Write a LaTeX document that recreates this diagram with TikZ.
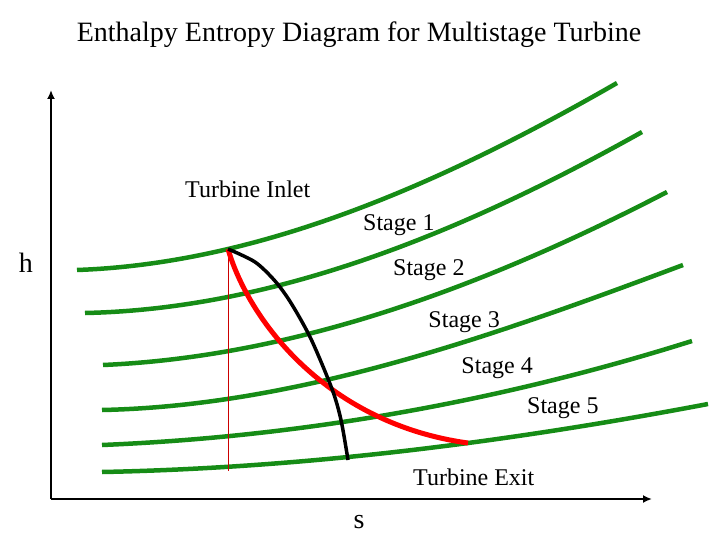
\documentclass[tikz,border=0pt]{standalone}
\usepackage{fontspec}
\setmainfont{Liberation Serif}
\usetikzlibrary{arrows.meta}
\definecolor{isogreen}{RGB}{22,140,22}
\tikzset{every node/.append style={inner sep=0pt}}

\begin{document}
\begin{tikzpicture}[x=1pt,y=-1pt,
  isobar/.style={isogreen,line width=4.5pt},
  axisline/.style={line width=2.5pt,-{Latex[length=9pt,width=8pt]}},
  stagelbl/.style={font=\fontsize{24}{26}\selectfont,anchor=base west},
  axislbl/.style={font=\fontsize{28}{30}\selectfont,anchor=base}]
  \useasboundingbox (0,0) rectangle (720,540);
  \coordinate (origin) at (51,499);
  \coordinate (htop) at (51,90);
  \coordinate (send) at (652,499);
  \draw[axisline] (origin) -- (htop);
  \draw[axisline] (origin) -- (send);
  % constant pressure lines
  \draw[isobar] (77,270) .. controls (257,263.6) and (437,186.4) .. (617,83);
  \draw[isobar] (85,313) .. controls (270.7,309.1) and (456.3,236) .. (642,132);
  \draw[isobar] (103,365) .. controls (291,356.8) and (479,289.5) .. (667,192);
  \draw[isobar] (102,410) .. controls (295.7,405.9) and (489.3,337.6) .. (683,265);
  \draw[isobar] (102,445) .. controls (298.7,436.8) and (495.3,402.9) .. (692,341);
  \draw[isobar] (102,472) .. controls (304,468) and (506,442.3) .. (708,404);
  \coordinate (inlet) at (228,249);
  \coordinate (exit) at (468,443);
  \coordinate (actual) at (348,460);
  \coordinate (foot) at (228,471);
  \draw[red!80!black,line width=0.8pt] (inlet) -- (foot);
  \draw[red,line width=5pt] (inlet) .. controls (250,324) and (330,424) .. (exit);
  \draw[black,line width=3.5pt] plot[smooth] coordinates {(inlet) (255,262) (275,281) (291,303) (311,339) (332,389) (341,420) (actual)};
  % labels
  \node[font=\fontsize{28}{30}\selectfont,anchor=base] (title) at (359,42) {Enthalpy Entropy Diagram for Multistage Turbine};
  \node[stagelbl] (inl) at (185,197) {Turbine Inlet};
  \node[stagelbl] (st1) at (363,230) {Stage 1};
  \node[stagelbl] (st2) at (393,275) {Stage 2};
  \node[stagelbl,anchor=base east] (st3) at (500,327) {Stage 3};
  \node[stagelbl,anchor=base east] (st4) at (533,373) {Stage 4};
  \node[stagelbl] (st5) at (527,413) {Stage 5};
  \node[stagelbl] (ext) at (413,485) {Turbine Exit};
  \node[axislbl] (hlbl) at (26,272) {h};
  \node[axislbl] (slbl) at (359,528) {s};
\end{tikzpicture}
\end{document}
